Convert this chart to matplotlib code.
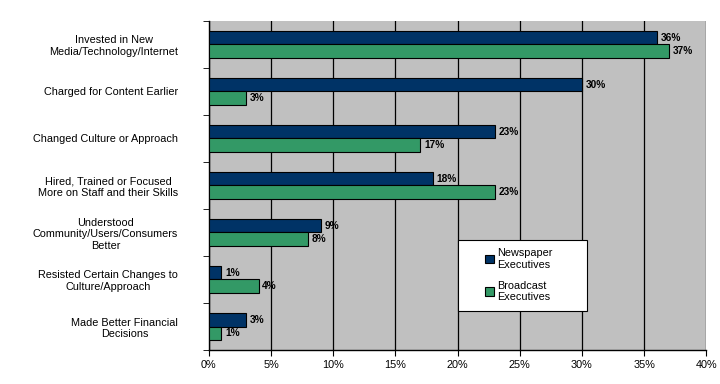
import numpy as np
from matplotlib import pyplot as plt
from matplotlib.patches import Rectangle

plt.rcParams['font.family'] = ['Liberation Sans', 'DejaVu Sans']

categories = ['Invested in New\nMedia/Technology/Internet',
              'Charged for Content Earlier',
              'Changed Culture or Approach',
              'Hired, Trained or Focused\nMore on Staff and their Skills',
              'Understood\nCommunity/Users/Consumers\nBetter',
              'Resisted Certain Changes to\nCulture/Approach',
              'Made Better Financial\nDecisions']
newspaper = [36, 30, 23, 18, 9, 1, 3]
broadcast = [37, 3, 17, 23, 8, 4, 1]
series_names = ['Newspaper\nExecutives', 'Broadcast\nExecutives']

navy = '#003366'
green = '#339966'

fig = plt.figure(figsize=(7.2, 3.84), dpi=100)
ax = fig.add_axes([0.290, 0.0885, 0.691, 0.857])
ax.set_facecolor('#c0c0c0')

n = len(categories)
y = np.arange(n)
h = 0.29
b1 = ax.barh(y - h / 2, newspaper, height=h, color=navy, edgecolor='black', linewidth=0.8,
             label=series_names[0], zorder=3)
b2 = ax.barh(y + h / 2, broadcast, height=h, color=green, edgecolor='black', linewidth=0.8,
             label=series_names[1], zorder=3)

for bars, vals in ((b1, newspaper), (b2, broadcast)):
    for bar, v in zip(bars, vals):
        ax.text(v + 0.3, bar.get_y() + bar.get_height() / 2, f'{v}%', va='center', ha='left',
                fontsize=7.3, fontweight='bold', zorder=4)

ax.set_xlim(0, 40)
ax.set_ylim(n - 0.5, -0.5)
ax.set_xticks(np.arange(0, 41, 5))
ax.set_xticklabels([f'{v}%' for v in range(0, 41, 5)], fontsize=7.8)
ax.xaxis.grid(True, color='black', linewidth=0.9, zorder=1)
ax.set_axisbelow(True)

ax.set_yticks(y)
ax.set_yticklabels(categories, fontsize=7.8, multialignment='center')
ax.tick_params(axis='y', length=0, pad=22)
ax.set_yticks(np.arange(-0.5, n, 1), minor=True)
ax.tick_params(axis='y', which='minor', length=4, direction='out')
ax.tick_params(axis='x', length=4, direction='out')

for s in ['top', 'right']:
    ax.spines[s].set_visible(False)
ax.spines['left'].set_linewidth(1.0)
ax.spines['bottom'].set_linewidth(1.0)

# legend box drawn by hand, entries sit right of its left edge like the original
ax.add_patch(Rectangle((0.50, 0.12), 0.26, 0.215, transform=ax.transAxes, facecolor='white',
                       edgecolor='black', linewidth=0.8, zorder=5))
leg = ax.legend(loc='center left', bbox_to_anchor=(0.545, 0.2275), fontsize=7.8, frameon=False,
                handlelength=0.8, handleheight=0.8, handletextpad=0.3, labelspacing=1.0,
                borderpad=0)
leg.set_zorder(6)

fig.savefig('out.png', dpi=100)
